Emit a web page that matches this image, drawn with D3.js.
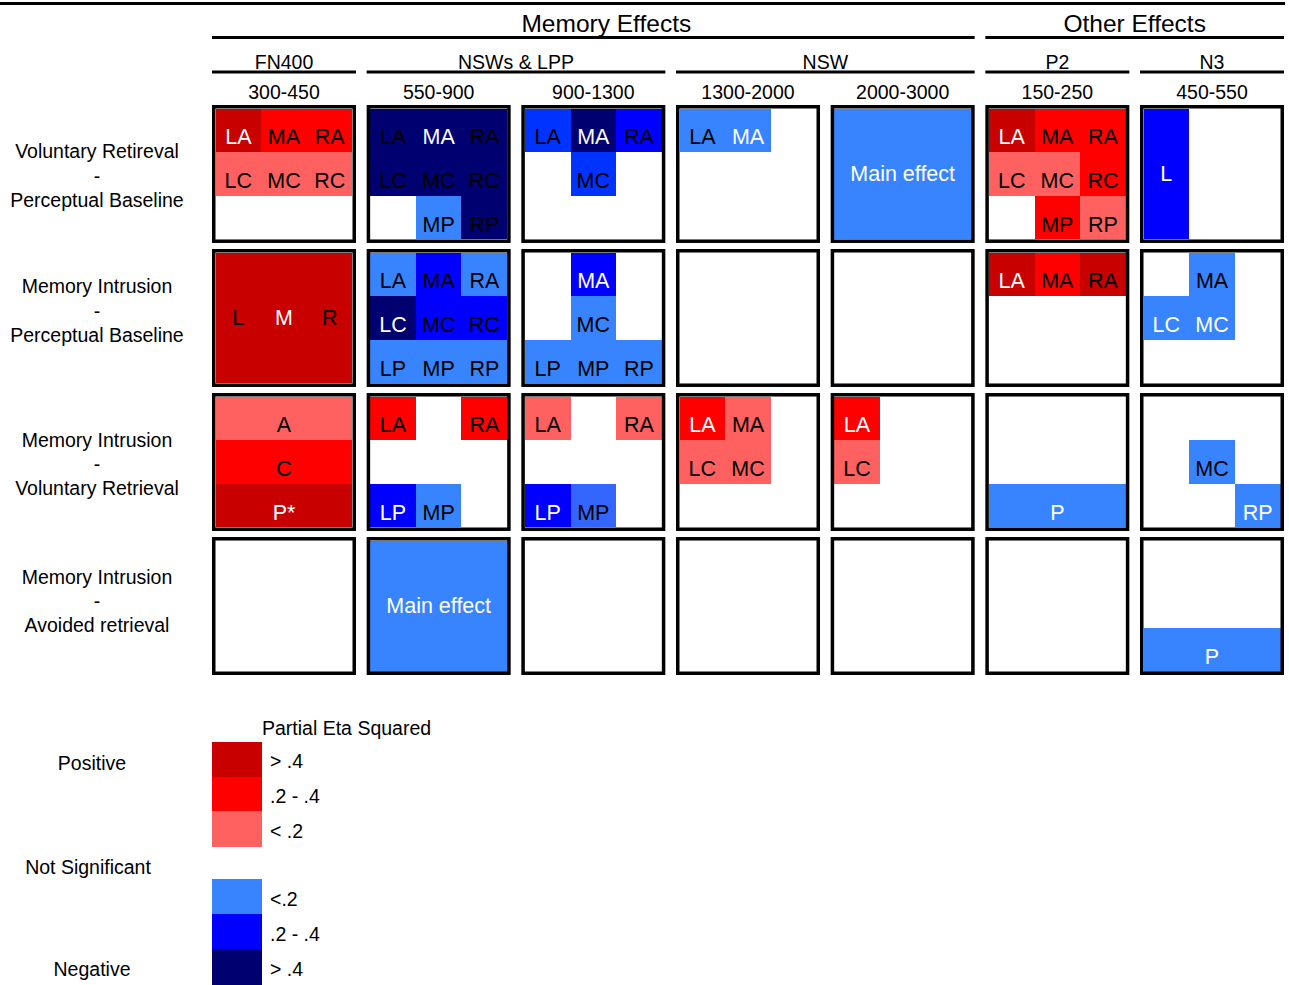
<!DOCTYPE html>
<html>
<head>
<meta charset="utf-8">
<script src="https://cdn.jsdelivr.net/npm/d3@7"></script>
<style>
  body { margin: 0; background: #fff; }
  svg { display: block; font-family: "Liberation Sans", Arial, sans-serif; }
</style>
</head>
<body>
<svg id="chart" width="1289" height="985"></svg>
<script>
// ---------------- DATA ----------------
const timeWindows = ["300-450", "550-900", "900-1300", "1300-2000", "2000-3000", "150-250", "450-550"];
const components = [
  { name: "FN400", from: 0, to: 0 },
  { name: "NSWs & LPP", from: 1, to: 2 },
  { name: "NSW", from: 3, to: 4 },
  { name: "P2", from: 5, to: 5 },
  { name: "N3", from: 6, to: 6 }
];
const effectGroups = [
  { name: "Memory Effects", from: 0, to: 4 },
  { name: "Other Effects", from: 5, to: 6 }
];
const contrasts = [
  ["Voluntary Retireval", "-", "Perceptual Baseline"],
  ["Memory Intrusion", "-", "Perceptual Baseline"],
  ["Memory Intrusion", "-", "Voluntary Retrieval"],
  ["Memory Intrusion", "-", "Avoided retrieval"]
];
// cell code: "<position> <level> [w = white label] [custom label]"
// position: L/M/R + A/C/P ; "*" = spans whole row/column ; "**" = main effect
const rowVRvsPB = [
  ["LA P3 w", "MA P2", "RA P2", "LC P1", "MC P1", "RC P1"],
  ["LA N3", "MA N3 w", "RA N3", "LC N3", "MC N3", "RC N3", "MP N1", "RP N3"],
  ["LA N2b", "MA N3 w", "RA N2", "MC N2b"],
  ["LA N1", "MA N1 w"],
  ["** N1 w"],
  ["LA P3 w", "MA P2", "RA P2", "LC P1", "MC P1", "RC P2", "MP P2", "RP P1"],
  ["L* N2 w"]
];
const rowMIvsPB = [
  ["L* P3", "M* P3 w", "R* P3"],
  ["LA N1", "MA N2", "RA N1", "LC N3 w", "MC N2", "RC N2", "LP N1", "MP N1", "RP N1"],
  ["MA N2 w", "MC N1", "LP N1", "MP N1", "RP N1"],
  [],
  [],
  ["LA P3 w", "MA P2", "RA P3"],
  ["MA N1", "LC N1 w", "MC N1 w"]
];
const rowMIvsVR = [
  ["*A P1", "*C P2", "*P P3 w P*"],
  ["LA P2", "RA P2", "LP N2 w", "MP N1"],
  ["LA P1", "RA P1", "LP N2 w", "MP N1b"],
  ["LA P2 w", "MA P1", "LC P1", "MC P1"],
  ["LA P2 w", "LC P1"],
  ["*P N1 w"],
  ["MC N1", "RP N1 w"]
];
const rowMIvsAR = [
  [],
  ["** N1 w"],
  [],
  [],
  [],
  [],
  ["*P N1 w"]
];
const panelRows = [rowVRvsPB, rowMIvsPB, rowMIvsVR, rowMIvsAR];
const sites = ["L", "M", "R"];
const regions = ["A", "C", "P"];
const levels = ["P3", "P2", "P1", "N1", "N2", "N3", "N2b", "N1b"];
const levelColors = ["#c80000", "#ff0000", "#ff6060", "#3884ff", "#0000ff", "#000070", "#0033ff", "#3366ff"];
const legendTitle = "Partial Eta Squared";
const legendPositive = [{ lvl: "P3", label: "> .4" }, { lvl: "P2", label: ".2 - .4" }, { lvl: "P1", label: "< .2" }];
const legendNegative = [{ lvl: "N1", label: "<.2" }, { lvl: "N2", label: ".2 - .4" }, { lvl: "N3", label: "> .4" }];
const legendSides = ["Positive", "Not Significant", "Negative"];

// ---------------- DRAW ----------------
const svg = d3.select("#chart");
const color = d3.scaleOrdinal().domain(levels).range(levelColors);

const x = d3.scaleBand().domain(d3.range(timeWindows.length)).range([212, 1284]).paddingInner(0.069);
const y = d3.scaleBand().domain(d3.range(contrasts.length)).range([105, 675]).paddingInner(0.042);
const bw = x.bandwidth(), bh = y.bandwidth();
const B = 3.5; // border thickness

// top rule
svg.append("line").attr("x1", 0).attr("x2", 1285).attr("y1", 3.5).attr("y2", 3.5)
  .attr("stroke", "#000").attr("stroke-width", 3);

// group headers
effectGroups.forEach((g, i) => {
  const x0 = x(g.from), x1 = x(g.to) + bw;
  svg.append("line").attr("x1", x0).attr("x2", x1).attr("y1", 37.5).attr("y2", 37.5)
    .attr("stroke", "#000").attr("stroke-width", 3);
  svg.append("text").attr("x", (x0 + x1) / 2 + (i === 0 ? 13 : 0)).attr("y", 23)
    .attr("text-anchor", "middle").attr("dominant-baseline", "central")
    .attr("font-size", 24.5).text(g.name);
});
components.forEach(c => {
  const x0 = x(c.from), x1 = x(c.to) + bw;
  svg.append("line").attr("x1", x0).attr("x2", x1).attr("y1", 72).attr("y2", 72)
    .attr("stroke", "#000").attr("stroke-width", 3);
  svg.append("text").attr("x", (x0 + x1) / 2).attr("y", 62)
    .attr("text-anchor", "middle").attr("dominant-baseline", "central")
    .attr("font-size", 19.5).text(c.name);
});
timeWindows.forEach((t, i) => {
  svg.append("text").attr("x", x(i) + bw / 2).attr("y", 92)
    .attr("text-anchor", "middle").attr("dominant-baseline", "central")
    .attr("font-size", 19.5).text(t);
});

// row labels
const rowLabelShift = [2, -7, 2, -5];
contrasts.forEach((lines, r) => {
  const cy = y(r) + bh / 2 + rowLabelShift[r];
  const offs = [-24.5, 0, 24];
  lines.forEach((s, k) => {
    svg.append("text").attr("x", 97).attr("y", cy + offs[k])
      .attr("text-anchor", "middle").attr("dominant-baseline", "central")
      .attr("font-size", 19.5).text(s);
  });
});

// panels
const sx = d3.scaleBand().domain(sites);
const sy = d3.scaleBand().domain(regions);
panelRows.forEach((row, r) => {
  row.forEach((cells, c) => {
    const px = x(c), py = y(r);
    const g = svg.append("g");
    sx.range([px + B, px + bw - B]);
    sy.range([py + B, py + bh - B]);
    cells.forEach(code => {
      const tok = code.split(" ");
      const pos = tok[0], lvl = tok[1];
      const white = tok[2] === "w";
      const s = pos[0], reg = pos[1];
      let cx0, cx1, cy0, cy1, label, full;
      if (s === "*") { cx0 = px + B; cx1 = px + bw - B; } else { cx0 = sx(s); cx1 = sx(s) + sx.bandwidth(); }
      if (reg === "*") { cy0 = py + B; cy1 = py + bh - B; full = true; } else { cy0 = sy(reg); cy1 = sy(reg) + sy.bandwidth(); full = false; }
      if (pos === "**") label = "Main effect";
      else label = pos.replace("*", "");
      if (tok[3]) label = tok[3];
      g.append("rect").attr("x", cx0).attr("y", cy0)
        .attr("width", cx1 - cx0).attr("height", cy1 - cy0)
        .attr("shape-rendering", "crispEdges")
        .attr("fill", color(lvl));
      g.append("text").attr("x", (cx0 + cx1) / 2)
        .attr("y", (cy0 + cy1) / 2 + (full ? 0 : 7))
        .attr("text-anchor", "middle").attr("dominant-baseline", "central")
        .attr("font-size", 21.5).attr("fill", white ? "#fff" : "#000").text(label);
    });
    g.append("rect").attr("x", px + B / 2).attr("y", py + B / 2)
      .attr("width", bw - B).attr("height", bh - B)
      .attr("fill", "none").attr("stroke", "#000").attr("stroke-width", B);
  });
});

// legend
const ly = d3.scaleBand().domain(d3.range(3)).range([742, 846]);
const ly2 = d3.scaleBand().domain(d3.range(3)).range([879, 984]);
svg.append("text").attr("x", 262).attr("y", 728).attr("dominant-baseline", "central")
  .attr("font-size", 19.5).text(legendTitle);
[[legendPositive, ly], [legendNegative, ly2]].forEach(([items, sc]) => {
  items.forEach((it, i) => {
    svg.append("rect").attr("x", 212).attr("y", sc(i)).attr("width", 50).attr("height", sc.bandwidth() + 0.5)
      .attr("shape-rendering", "crispEdges")
      .attr("fill", color(it.lvl));
    svg.append("text").attr("x", 270).attr("y", sc(i) + sc.bandwidth() / 2 + 2)
      .attr("dominant-baseline", "central").attr("font-size", 19.5).text(it.label);
  });
});
const sideY = [763, 867, 969];
const sideX = [92, 88, 92];
legendSides.forEach((s, i) => {
  svg.append("text").attr("x", sideX[i]).attr("y", sideY[i])
    .attr("text-anchor", "middle").attr("dominant-baseline", "central")
    .attr("font-size", 19.5).text(s);
});
</script>
</body>
</html>
